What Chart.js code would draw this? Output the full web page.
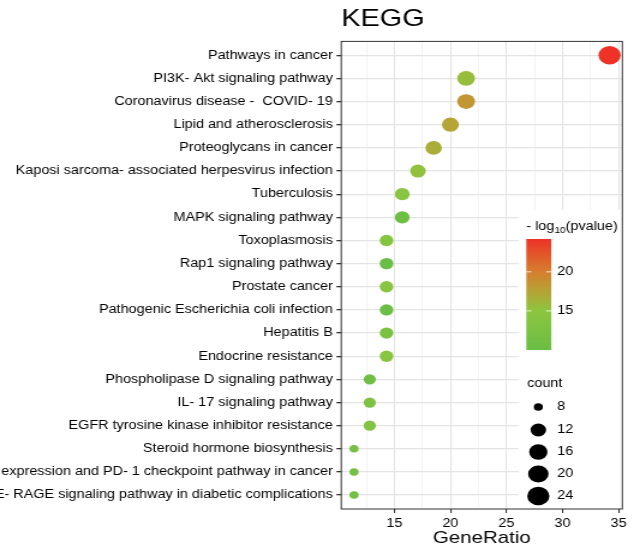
<!DOCTYPE html>
<html>
<head>
<meta charset="utf-8">
<script src="https://cdn.jsdelivr.net/npm/chart.js@4.4.1/dist/chart.umd.min.js"></script>
<style>
    html, body { margin: 0; padding: 0; background: #fff; overflow: hidden; }
    #kegg { display: block; width: 634px; height: 549px; }
</style>
</head>
<body>
<!-- drawn at 528px wide and stretched to 634px, like the wide source image -->
<canvas id="kegg" width="528" height="549" style="width:634px;height:549px"></canvas>
<script>
var PATHWAYS = [
    "Pathways in cancer",
    "PI3K- Akt signaling pathway",
    "Coronavirus disease -  COVID- 19",
    "Lipid and atherosclerosis",
    "Proteoglycans in cancer",
    "Kaposi sarcoma- associated herpesvirus infection",
    "Tuberculosis",
    "MAPK signaling pathway",
    "Toxoplasmosis",
    "Rap1 signaling pathway",
    "Prostate cancer",
    "Pathogenic Escherichia coli infection",
    "Hepatitis B",
    "Endocrine resistance",
    "Phospholipase D signaling pathway",
    "IL- 17 signaling pathway",
    "EGFR tyrosine kinase inhibitor resistance",
    "Steroid hormone biosynthesis",
    "PD- L1 expression and PD- 1 checkpoint pathway in cancer",
    "AGE- RAGE signaling pathway in diabetic complications"
];
var GENE_RATIO = [34.2, 21.4, 21.4, 20.0, 18.5, 17.1, 15.7, 15.7, 14.3, 14.3,
                  14.3, 14.3, 14.3, 14.3, 12.8, 12.8, 12.8, 11.4, 11.4, 11.4];
var COUNTS = [24, 15, 15, 14, 13, 12, 11, 11, 10, 10, 10, 10, 10, 10, 9, 9, 9, 8, 8, 8];
var NEG_LOG_P = [24.2, 15.6, 18.4, 17.4, 16.7, 15.3, 14.4, 10.6, 13.6, 10.0,
                 14.2, 10.3, 12.6, 14.2, 10.8, 12.8, 13.4, 11.8, 11.4, 11.2];
var X_TICKS = [12.5, 15, 17.5, 20, 22.5, 25, 27.5, 30, 32.5, 35];
var COLOR_TICKS = [15, 20];
var SIZE_BREAKS = [8, 12, 16, 20, 24];

var FONT = "'Liberation Sans', Arial, sans-serif";
var GRADIENT = [
    [0, [106, 189, 69]],
    [0.35, [141, 198, 63]],
    [0.53, [182, 163, 54]],
    [0.70, [213, 128, 46]],
    [1, [238, 50, 40]]
];
var P_MIN = Math.min.apply(null, NEG_LOG_P);
var P_MAX = Math.max.apply(null, NEG_LOG_P);
var C_MIN = Math.min.apply(null, COUNTS);
var C_MAX = Math.max.apply(null, COUNTS);

function rgb(c) {
    return "rgb(" + c.map(Math.round).join(",") + ")";
}

function pColor(v) {
    var t = (v - P_MIN) / (P_MAX - P_MIN);
    for (var i = 1; i < GRADIENT.length; i++) {
        if (t <= GRADIENT[i][0]) {
            var a = GRADIENT[i - 1], b = GRADIENT[i];
            var f = (t - a[0]) / (b[0] - a[0]);
            return rgb([0, 1, 2].map(function (k) { return a[1][k] + (b[1][k] - a[1][k]) * f; }));
        }
    }
    return rgb(GRADIENT[GRADIENT.length - 1][1]);
}

// ggplot-like area scale, diameter range 7.5 .. 18.5 px
function dotRadius(c) {
    return (7.5 + 11 * Math.sqrt((c - C_MIN) / (C_MAX - C_MIN))) / 2;
}

var legendPlugin = {
    id: "keggLegend",
    afterDraw: function (chart) {
        var ctx = chart.ctx;
        var area = chart.chartArea;
        var barTop = 239, barBottom = 350, barLeft = 438.3, barW = 20.8;

        ctx.save();
        ctx.fillStyle = "#fff";
        ctx.fillRect(431.7, 210, area.right - 431.7, 298);

        ctx.fillStyle = "#000";
        ctx.textBaseline = "alphabetic";
        ctx.textAlign = "left";
        ctx.font = "12px " + FONT;
        var x = 438.3;
        ctx.fillText("- log", x, 229.5);
        x += ctx.measureText("- log").width;
        ctx.font = "8.5px " + FONT;
        ctx.fillText("10", x, 232.5);
        x += ctx.measureText("10").width;
        ctx.font = "12px " + FONT;
        ctx.fillText("(pvalue)", x, 229.5);

        var grad = ctx.createLinearGradient(0, barBottom, 0, barTop);
        GRADIENT.forEach(function (s) { grad.addColorStop(s[0], rgb(s[1])); });
        ctx.fillStyle = grad;
        ctx.fillRect(barLeft, barTop, barW, barBottom - barTop);

        ctx.textBaseline = "middle";
        COLOR_TICKS.forEach(function (v) {
            var y = barBottom - (v - P_MIN) / (P_MAX - P_MIN) * (barBottom - barTop);
            ctx.strokeStyle = "rgba(255,255,255,0.8)";
            ctx.lineWidth = 1;
            ctx.beginPath();
            ctx.moveTo(barLeft, y); ctx.lineTo(barLeft + 4.2, y);
            ctx.moveTo(barLeft + barW - 4.2, y); ctx.lineTo(barLeft + barW, y);
            ctx.stroke();
            ctx.fillStyle = "#000";
            ctx.fillText(String(v), 464, y);
        });

        ctx.fillText("count", 439, 384);
        var ys = [407, 430, 452, 474, 496];
        SIZE_BREAKS.forEach(function (c, i) {
            ctx.fillStyle = "#000";
            ctx.beginPath();
            ctx.arc(448.3, ys[i], dotRadius(c), 0, Math.PI * 2);
            ctx.fill();
            ctx.fillText(String(c), 464, ys[i]);
        });

        ctx.strokeStyle = "#333";
        ctx.lineWidth = 1;
        ctx.strokeRect(area.left, area.top, area.right - area.left, area.bottom - area.top);
        ctx.restore();
    }
};

Chart.defaults.font.family = FONT;

new Chart(document.getElementById("kegg").getContext("2d"), {
    type: "scatter",
    data: {
        datasets: [{
            data: GENE_RATIO.map(function (g, i) { return { x: g, y: i }; }),
            pointRadius: COUNTS.map(dotRadius),
            pointHoverRadius: COUNTS.map(dotRadius),
            pointBackgroundColor: NEG_LOG_P.map(pColor),
            pointBorderWidth: 0
        }]
    },
    options: {
        responsive: false,
        animation: false,
        devicePixelRatio: 1,
        layout: { padding: { left: 0, right: 9.7, top: 0, bottom: 0 } },
        plugins: {
            legend: { display: false },
            tooltip: { enabled: false },
            title: {
                display: true,
                text: "KEGG",
                align: "start",
                fullSize: false,
                color: "#000",
                font: { size: 24, weight: "normal" },
                padding: { top: 5, bottom: 7.6 }
            }
        },
        scales: {
            x: {
                type: "linear",
                min: 10.26,
                max: 35.34,
                afterBuildTicks: function (scale) {
                    scale.ticks = X_TICKS.map(function (v) { return { value: v }; });
                },
                afterFit: function (scale) { scale.height = 40; },
                border: { display: false },
                grid: {
                    color: function (c) { return c.tick && c.tick.value % 5 === 0 ? "#e4e4e4" : "#efefef"; },
                    lineWidth: function (c) { return c.tick && c.tick.value % 5 === 0 ? 1.1 : 0.7; },
                    tickColor: function (c) { return c.tick && c.tick.value % 5 === 0 ? "#333" : "rgba(0,0,0,0)"; },
                    tickLength: 4
                },
                ticks: {
                    color: "#000",
                    font: { size: 12 },
                    padding: 3,
                    maxRotation: 0,
                    autoSkip: false,
                    callback: function (v) { return v % 5 === 0 ? String(v) : ""; }
                },
                title: {
                    display: true,
                    text: "GeneRatio",
                    color: "#000",
                    font: { size: 17 },
                    padding: { top: 0, bottom: 0 }
                }
            },
            y: {
                type: "linear",
                reverse: true,
                min: -0.6,
                max: PATHWAYS.length - 0.4,
                afterBuildTicks: function (scale) {
                    scale.ticks = PATHWAYS.map(function (p, i) { return { value: i }; });
                },
                afterFit: function (scale) { scale.width = 284.2; },
                border: { display: false },
                grid: {
                    color: "#e4e4e4",
                    lineWidth: 1.3,
                    tickColor: "#333",
                    tickLength: 4
                },
                ticks: {
                    color: "#000",
                    font: { size: 12 },
                    padding: 3,
                    autoSkip: false,
                    callback: function (v) { return PATHWAYS[v]; }
                }
            }
        }
    },
    plugins: [legendPlugin]
});
</script>
</body>
</html>
